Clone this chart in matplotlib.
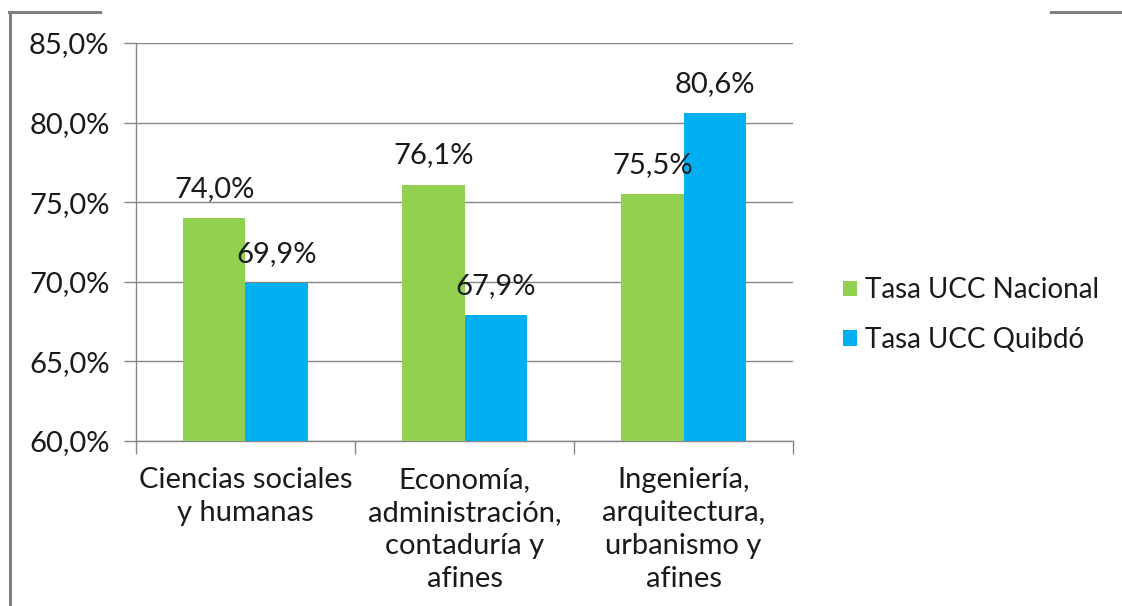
import matplotlib
matplotlib.use("Agg")
import matplotlib.pyplot as plt
import numpy as np
from matplotlib.lines import Line2D
from matplotlib.ticker import FixedLocator, FuncFormatter

plt.rcParams["font.family"] = ["Lato", "DejaVu Sans"]

categories = [
    "Ciencias sociales\ny humanas",
    "Economía,\nadministración,\ncontaduría y\nafines",
    "Ingeniería,\narquitectura,\nurbanismo y\nafines",
]
nacional = [74.0, 76.1, 75.5]
quibdo = [69.9, 67.9, 80.6]
series_names = ["Tasa UCC Nacional", "Tasa UCC Quibdó"]
y_ticks = [60, 65, 70, 75, 80, 85]

GREEN = "#92D050"
BLUE = "#00B0F0"
GRID = "#868686"
TEXT = "#1A1A1A"
FS = 21


def pct(v):
    return f"{v:.1f}%".replace(".", ",")


fig = plt.figure(figsize=(11.22, 6.06), dpi=100)
ax = fig.add_axes([0.1212, 0.2723, 0.5856, 0.6567])

x = np.arange(len(categories))
w = 0.285
b1 = ax.bar(x - w / 2, nacional, w, color=GREEN, label=series_names[0], zorder=3)
b2 = ax.bar(x + w / 2, quibdo, w, color=BLUE, label=series_names[1], zorder=3)

for bars, vals in [(b1, nacional), (b2, quibdo)]:
    for bar, v in zip(bars, vals):
        ax.annotate(
            pct(v),
            (bar.get_x() + bar.get_width() / 2, v),
            xytext=(0, 21), textcoords="offset points",
            ha="center", va="center", fontsize=FS, color=TEXT, zorder=5,
        )

ax.set_ylim(60, 85)
ax.set_xlim(-0.5, len(categories) - 0.5)
ax.yaxis.set_major_locator(FixedLocator(y_ticks))
ax.yaxis.set_major_formatter(FuncFormatter(lambda v, _: pct(v)))
ax.grid(axis="y", color=GRID, linewidth=1.0, zorder=0)
ax.set_axisbelow(True)

ax.set_xticks(x)
ax.set_xticklabels(categories, fontsize=FS, color=TEXT, linespacing=1.32)
ax.set_xticks(np.arange(len(categories) + 1) - 0.5, minor=True)
ax.tick_params(axis="x", which="major", length=0, pad=19)
ax.tick_params(axis="x", which="minor", length=9, color=GRID, width=1.0)
ax.tick_params(axis="y", length=9, color=GRID, width=1.0, labelsize=FS,
               labelcolor=TEXT, pad=10)

for side in ["top", "right"]:
    ax.spines[side].set_visible(False)
for side in ["left", "bottom"]:
    ax.spines[side].set_color(GRID)
    ax.spines[side].set_linewidth(1.0)

fig.legend(
    handles=[b1, b2], loc="center left", bbox_to_anchor=(0.729, 0.48),
    frameon=False, fontsize=20, handlelength=0.5, handleheight=0.5,
    handletextpad=0.3, labelspacing=0.85, labelcolor=TEXT,
)

# marco gris de la imagen original
bc = "#7F7F7F"
fig.add_artist(Line2D([0.009, 0.009], [0.0, 0.981], color=bc, lw=2.2, transform=fig.transFigure))
fig.add_artist(Line2D([0.008, 0.089], [0.981, 0.981], color=bc, lw=2.2, transform=fig.transFigure))
fig.add_artist(Line2D([0.937, 1.0], [0.981, 0.981], color=bc, lw=2.2, transform=fig.transFigure))

fig.savefig("out.png", dpi=100)
